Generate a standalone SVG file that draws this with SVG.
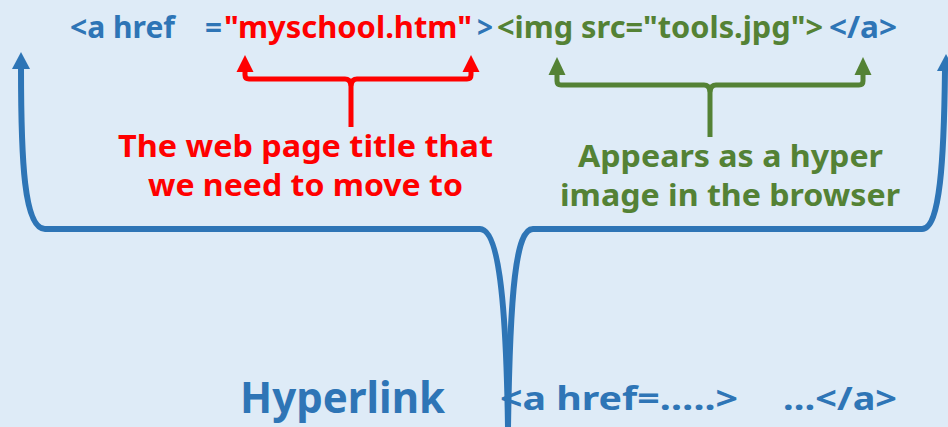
<svg xmlns="http://www.w3.org/2000/svg" width="948" height="427" viewBox="0 0 948 427">
<style>
.t{font-family:"Noto Sans","DejaVu Sans","Liberation Sans",sans-serif;font-weight:bold;}
.top{font-size:30px;}
.lbl{font-size:30px;}
.blue{fill:#2E75B6;}
.red{fill:#FF0000;}
.green{fill:#548235;}
.ln{fill:none;stroke-linecap:butt;stroke-linejoin:round;}
.lb{stroke:#2E75B6;stroke-width:6;}
.lr{stroke:#FF0000;stroke-width:5;}
.lg{stroke:#548235;stroke-width:5;}
</style>
<rect x="0" y="0" width="948" height="427" fill="#DEEBF7"/>
<g id="connectors">
  <!-- red bracket -->
  <path class="ln lr" d="M245,70 V75 Q245,79 249,79 H345 Q350,79 351,85 Q352,79 357,79 H467 Q471,79 471,75 V70"/>
  <path class="ln lr" d="M351,84 V127"/>
  <polygon class="red" points="245,55 236.5,72 253.5,72"/>
  <polygon class="red" points="471,55 462.5,72 479.5,72"/>
  <!-- green bracket -->
  <path class="ln lg" d="M557,73 V81 Q557,85 561,85 H704 Q709,85 710,91 Q711,85 716,85 H859 Q863,85 863,81 V73"/>
  <path class="ln lg" d="M710,90 V137"/>
  <polygon class="green" points="557,57 548.5,75 565.5,75"/>
  <polygon class="green" points="863,57 854.5,75 871.5,75"/>
  <!-- blue brace -->
  <path class="ln lb" d="M21,68 C21,160 24,229 45,229 H480 C497,229 506,290 508,427"/>
  <path class="ln lb" d="M508,427 C510,290 516,229 533,229 H922 C940,229 944,160 945,70"/>
  <polygon class="blue" points="21,52 12,69 30,69"/>
  <polygon class="blue" points="946,54 937,71 955,71"/>
</g>
<g id="code-line">
  <text class="t top" y="38"><tspan class="blue" x="70" textLength="105" lengthAdjust="spacingAndGlyphs">&lt;a href</tspan><tspan class="blue" x="205" textLength="17" lengthAdjust="spacingAndGlyphs">=</tspan><tspan class="red" x="224" textLength="248" lengthAdjust="spacingAndGlyphs">"myschool.htm"</tspan><tspan class="blue" x="477" textLength="16" lengthAdjust="spacingAndGlyphs">&gt;</tspan><tspan class="green" x="497" textLength="326" lengthAdjust="spacingAndGlyphs">&lt;img src="tools.jpg"&gt;</tspan><tspan class="blue" x="829" textLength="68" lengthAdjust="spacingAndGlyphs">&lt;/a&gt;</tspan></text>
</g>
<g id="red-label">
  <text class="t lbl red" x="118" y="157" textLength="375" lengthAdjust="spacingAndGlyphs">The web page title that</text>
  <text class="t lbl red" x="148" y="196" textLength="315" lengthAdjust="spacingAndGlyphs">we need to move to</text>
</g>
<g id="green-label">
  <text class="t lbl green" x="578" y="167" textLength="305" lengthAdjust="spacingAndGlyphs">Appears as a hyper</text>
  <text class="t lbl green" x="560" y="206" textLength="340" lengthAdjust="spacingAndGlyphs">image in the browser</text>
</g>
<g id="hyperlink">
  <text class="t blue" style="font-size:43px" x="240" y="413" textLength="205" lengthAdjust="spacingAndGlyphs">Hyperlink</text>
  <text class="t blue" style="font-size:32px" x="500" y="410" textLength="238" lengthAdjust="spacingAndGlyphs">&lt;a href=…..&gt;</text>
  <text class="t blue" style="font-size:32px" x="783" y="410" textLength="114" lengthAdjust="spacingAndGlyphs">…&lt;/a&gt;</text>
</g>
</svg>
